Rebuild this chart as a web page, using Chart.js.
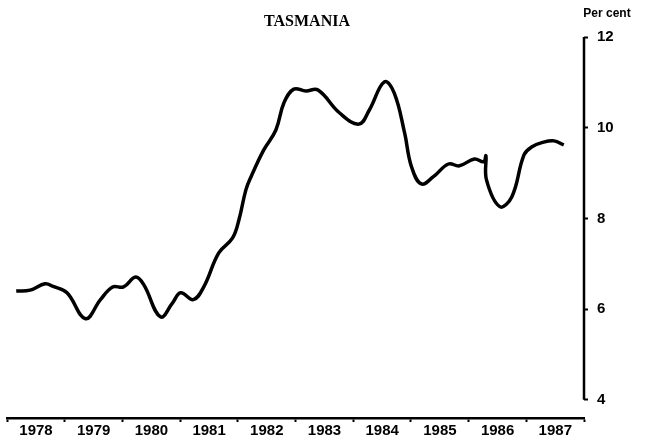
<!DOCTYPE html>
<html>
<head>
<meta charset="utf-8">
<script src="https://cdn.jsdelivr.net/npm/chart.js@4.4.1/dist/chart.umd.min.js"></script>
<style>
  html, body { margin: 0; padding: 0; background: #fff; }
</style>
</head>
<body>
<canvas id="myChart" width="651" height="440"></canvas>
<script>
// Années affichées sous l'axe (centrées entre les graduations)
const years = ["1978", "1979", "1980", "1981", "1982", "1983", "1984", "1985", "1986", "1987"];
const yTicks = [4, 6, 8, 10, 12];

// Taux (en %), date en années décimales
const dates = [
  1978.16, 1978.40, 1978.66, 1978.80, 1979.04, 1979.36, 1979.62, 1979.83,
  1980.02, 1980.23, 1980.37, 1980.66, 1980.87, 1981.01, 1981.23, 1981.41,
  1981.67, 1981.91, 1982.02, 1982.14, 1982.23, 1982.45, 1982.66, 1982.80,
  1982.97, 1983.18, 1983.39, 1983.76, 1984.10, 1984.28, 1984.54, 1984.71,
  1984.89, 1985.01, 1985.18, 1985.39, 1985.65, 1985.84, 1986.10, 1986.26,
  1986.30, 1986.31, 1986.54, 1986.75, 1986.96, 1987.10, 1987.27, 1987.48,
  1987.65
];
const rates = [
  6.40, 6.42, 6.56, 6.50, 6.36, 5.79, 6.21, 6.49,
  6.49, 6.71, 6.54, 5.83, 6.14, 6.36, 6.21, 6.49,
  7.24, 7.57, 7.97, 8.63, 8.92, 9.51, 9.95, 10.55,
  10.85, 10.81, 10.83, 10.33, 10.08, 10.39, 11.01, 10.77,
  9.89, 9.14, 8.76, 8.92, 9.20, 9.16, 9.31, 9.25,
  9.38, 8.85, 8.26, 8.48, 9.40, 9.58, 9.67, 9.71,
  9.62
];

const tickFont = { family: '"Liberation Sans Narrow", "Liberation Sans"', weight: "bold", size: 15 };

// Axe vertical (de 4 à 12 seulement) + titres
const annotations = {
  id: "annotations",
  afterDraw(chart) {
    const c = chart.ctx;
    const y = chart.scales.y;
    c.save();
    c.strokeStyle = "#000";
    c.lineWidth = 2.5;
    c.beginPath();
    c.moveTo(y.left, y.getPixelForValue(yTicks[yTicks.length - 1]));
    c.lineTo(y.left, y.getPixelForValue(yTicks[0]));
    c.stroke();
    c.fillStyle = "#000";
    c.textAlign = "center";
    c.textBaseline = "middle";
    c.font = 'bold 16px "Liberation Serif"';
    c.fillText("TASMANIA", 307, 22);
    c.font = 'bold 12px "Liberation Sans Narrow", "Liberation Sans"';
    c.fillText("Per cent", 607, 14);
    c.restore();
  }
};

const ctx = document.getElementById("myChart");

new Chart(ctx, {
  type: "line",
  data: {
    datasets: [
      {
        label: "Tasmania",
        data: dates.map((d, i) => ({ x: d, y: rates[i] })),
        borderColor: "#000",
        borderWidth: 3.5,
        pointRadius: 0,
        tension: 0.4,
        fill: false
      }
    ]
  },
  options: {
    responsive: false,
    animation: false,
    layout: { padding: { left: 7, top: 37, right: 0, bottom: 0 } },
    plugins: {
      legend: { display: false },
      tooltip: { enabled: false }
    },
    scales: {
      x: {
        type: "linear",
        min: 1978,
        max: 1988,
        afterBuildTicks: (scale) => {
          scale.ticks = years.map((y) => ({ value: +y })).concat([{ value: 1988 }]);
        },
        afterFit: (scale) => {
          scale.height = 22;
          scale.paddingLeft = 0;
          scale.paddingRight = 0;
        },
        border: { display: true, color: "#000", width: 2.5 },
        grid: {
          drawOnChartArea: false,
          drawTicks: true,
          tickLength: 4,
          tickWidth: 2,
          tickColor: "#000"
        },
        ticks: {
          autoSkip: false,
          maxRotation: 0,
          labelOffset: 29,
          padding: 0,
          color: "#000",
          font: tickFont,
          callback: (v) => (years.includes(String(v)) ? String(v) : "")
        }
      },
      y: {
        position: "right",
        min: 3.6,
        max: 12,
        afterBuildTicks: (scale) => {
          scale.ticks = yTicks.map((v) => ({ value: v }));
        },
        afterFit: (scale) => {
          scale.width = 67;
          scale.paddingTop = 0;
          scale.paddingBottom = 0;
        },
        border: { display: false },
        grid: {
          drawOnChartArea: false,
          drawTicks: true,
          tickLength: 4,
          tickWidth: 2,
          tickColor: "#000"
        },
        ticks: {
          padding: 9,
          color: "#000",
          font: tickFont
        }
      }
    }
  },
  plugins: [annotations]
});
</script>
</body>
</html>
